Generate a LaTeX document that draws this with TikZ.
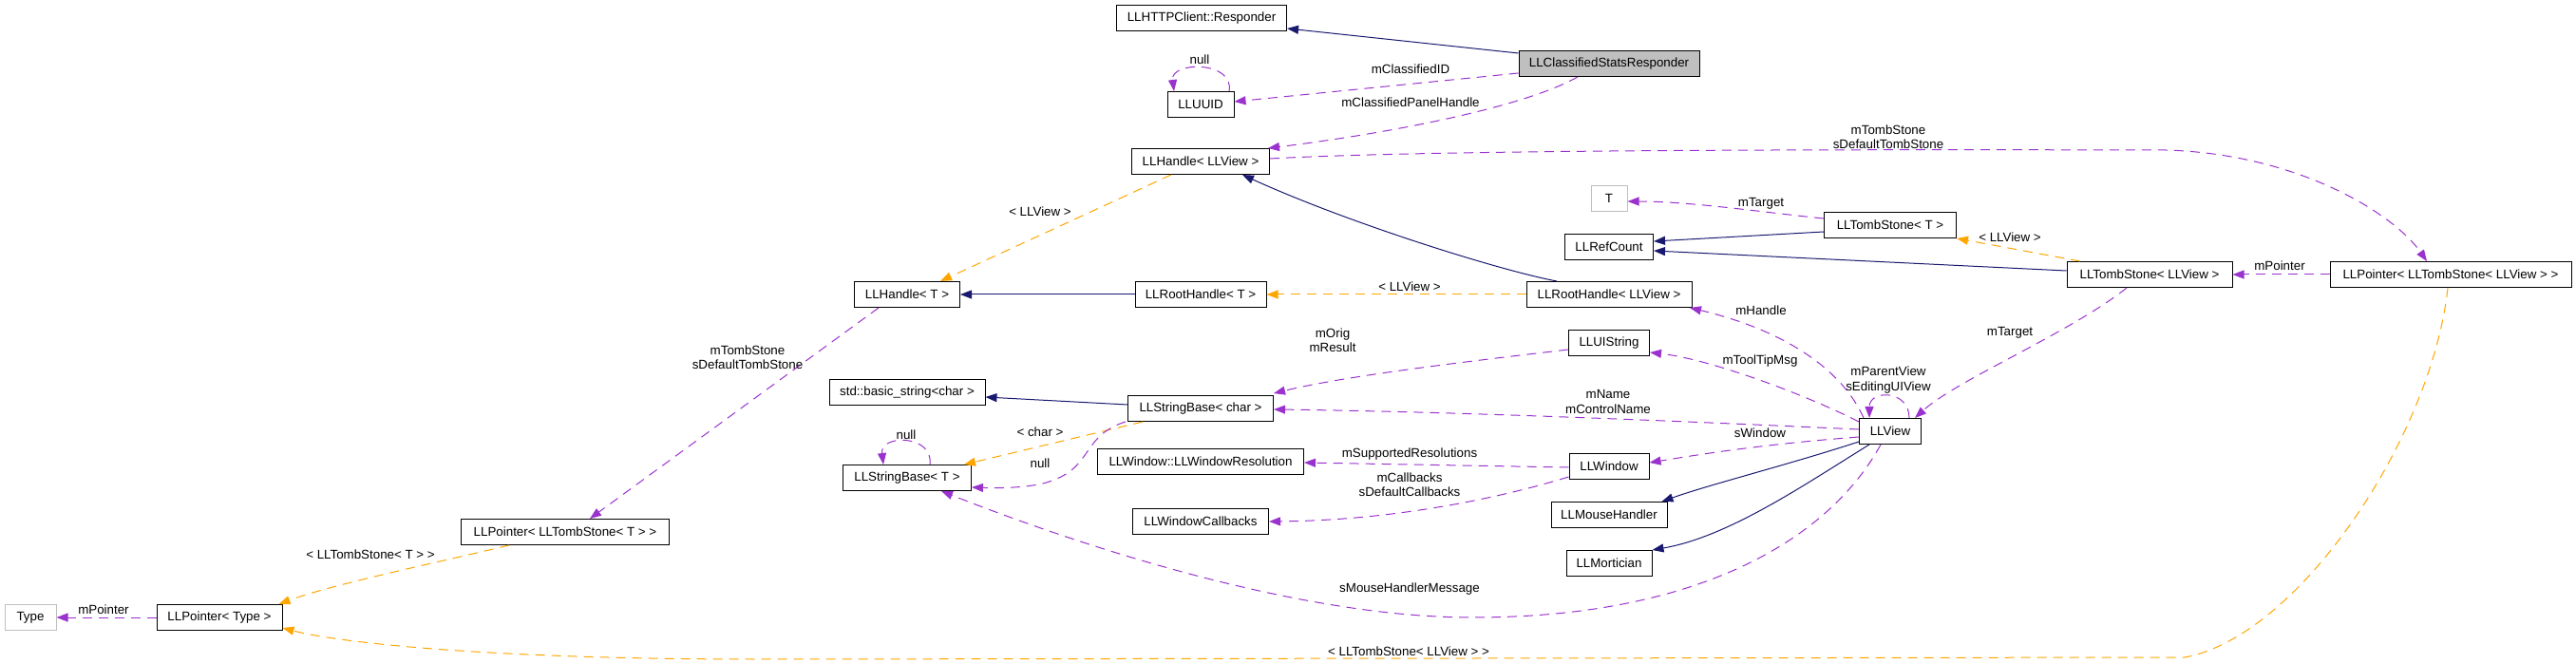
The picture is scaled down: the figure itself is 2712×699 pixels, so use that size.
\documentclass[tikz,border=0pt]{standalone}
\usepackage{fontspec}
\setmainfont{Liberation Sans}
\usetikzlibrary{arrows.meta}
\definecolor{inheritcol}{RGB}{25,25,112}
\definecolor{membercol}{RGB}{154,50,205}
\definecolor{tmplcol}{RGB}{255,165,0}
\definecolor{greybox}{RGB}{191,191,191}
\begin{document}
\begin{tikzpicture}[x=0.5pt,y=-0.5pt,
    every node/.style={font=\fontsize{6.67}{7.6}\selectfont},
    cls/.style={draw=black,line width=0.5pt,minimum height=13.5pt,inner xsep=0pt,inner ysep=0pt},
    undoc/.style={cls,draw=greybox},
    lbl/.style={inner sep=0pt,align=center},
    inherit/.style={draw=inheritcol,line width=0.5pt,-{Triangle[length=6pt,width=4.5pt]}},
    member/.style={draw=membercol,line width=0.5pt,dash pattern=on 5pt off 3.5pt,-{Triangle[length=6pt,width=4.5pt]}},
    tmpl/.style={draw=tmplcol,line width=0.5pt,dash pattern=on 5pt off 3.5pt,-{Triangle[length=6pt,width=4.5pt]}}]
    \useasboundingbox (0,0) rectangle (2712,699);
    \node[cls,minimum width=89.5pt] (resp) at (1265,19) {LLHTTPClient::Responder};
    \node[cls,fill=greybox,minimum width=95pt] (csr) at (1694,67) {LLClassifiedStatsResponder};
    \node[cls,minimum width=35pt] (uuid) at (1264,110) {LLUUID};
    \node[cls,minimum width=72.5pt] (hview) at (1264,170) {LLHandle< LLView >};
    \node[undoc,minimum width=19pt] (tT) at (1694,209) {T};
    \node[cls,minimum width=46.5pt] (refc) at (1694,260) {LLRefCount};
    \node[cls,minimum width=69pt] (rhT) at (1264,310) {LLRootHandle< T >};
    \node[cls,minimum width=87pt] (rhview) at (1694,310) {LLRootHandle< LLView >};
    \node[cls,minimum width=55.5pt] (hT) at (955,310) {LLHandle< T >};
    \node[cls,minimum width=82pt] (bstr) at (955,413) {std::basic\_string<char >};
    \node[cls,minimum width=76.5pt] (sbchar) at (1264,430) {LLStringBase< char >};
    \node[cls,minimum width=67.5pt] (sbT) at (955,503) {LLStringBase< T >};
    \node[cls,minimum width=108.5pt] (wres) at (1264,486) {LLWindow::LLWindowResolution};
    \node[cls,minimum width=71.5pt] (wcb) at (1264,549) {LLWindowCallbacks};
    \node[cls,minimum width=42.5pt] (uistr) at (1694,361) {LLUIString};
    \node[cls,minimum width=42pt] (win) at (1694,491) {LLWindow};
    \node[cls,minimum width=61pt] (mouse) at (1694,542) {LLMouseHandler};
    \node[cls,minimum width=45pt] (mort) at (1694,593) {LLMortician};
    \node[cls,minimum width=32.5pt] (view) at (1990,454) {LLView};
    \node[cls,minimum width=69.5pt] (tsT) at (1990,237) {LLTombStone< T >};
    \node[cls,minimum width=87pt] (tsview) at (2263,289) {LLTombStone< LLView >};
    \node[cls,minimum width=127pt] (ptsview) at (2580,289) {LLPointer< LLTombStone< LLView > >};
    \node[undoc,minimum width=27pt] (type) at (32,650) {Type};
    \node[cls,minimum width=66pt] (ptype) at (231,650) {LLPointer< Type >};
    \node[cls,minimum width=109.5pt] (ptsT) at (595,560) {LLPointer< LLTombStone< T > >};

    \draw[inherit] ([yshift=5.5pt]csr.west) -- ([yshift=1.5pt]resp.south east);
    \draw[member] ([yshift=-5pt]csr.west) -- ([yshift=1.5pt]uuid.east);
    \draw[member] ([xshift=15pt]uuid.north) .. controls +(6,-32) and +(-4,-32) .. ([xshift=-14pt]uuid.north);
    \draw[member] ([xshift=-16.5pt]csr.south) .. controls (1600,115) and (1450,142) .. ([xshift=35.5pt]hview.north);
    \draw[member] ([yshift=1.5pt]hview.east) .. controls (1500,158) and (1900,157) .. (2280,158)
        .. controls (2420,162) and (2520,225) .. ([xshift=-12.5pt]ptsview.north);
    \draw[inherit] ([xshift=-27.5pt]rhview.north) .. controls (1580,285) and (1420,235) .. ([xshift=22pt]hview.south);
    \draw[tmpl] ([xshift=-15.5pt]hview.south) -- ([xshift=17.5pt]hT.north);
    \draw[inherit] (rhT.west) -- (hT.east);
    \draw[tmpl] (rhview.west) -- (rhT.east);
    \draw[member] ([yshift=3.5pt]tsT.west) .. controls (1860,224) and (1780,212) .. ([yshift=-1.5pt]tT.east);
    \draw[inherit] ([yshift=-3.5pt]tsT.west) -- ([yshift=3pt]refc.east);
    \draw[inherit] ([yshift=2pt]tsview.west) -- ([yshift=-2pt]refc.east);
    \draw[tmpl] ([xshift=-36.5pt]tsview.north) -- (tsT.south east);
    \draw[member] (ptsview.west) -- (tsview.east);
    \draw[member] ([xshift=-12pt]tsview.south) .. controls (2180,350) and (2060,400) .. ([xshift=13pt]view.north);
    \draw[member] ([xshift=-14pt]view.north) .. controls (1940,390) and (1880,348) .. ([xshift=42.5pt]rhview.south);
    \draw[member] ([yshift=5pt]view.west) .. controls (1900,415) and (1800,378) .. ([yshift=-5pt]uistr.east);
    \draw[member] ([xshift=10pt]view.north) .. controls +(0,-30) and +(0,-30) .. ([xshift=-11pt]view.north);
    \draw[member] ([yshift=1pt]view.west) .. controls (1700,440) and (1500,433) .. ([yshift=-0.5pt]sbchar.east);
    \draw[member] ([yshift=-3.5pt]uistr.west) .. controls (1550,380) and (1420,395) .. ([yshift=8pt]sbchar.east);
    \draw[member] ([yshift=-3pt]view.west) .. controls (1850,468) and (1780,480) .. ([yshift=2pt]win.east);
    \draw[inherit] ([yshift=-5.5pt]view.west) .. controls (1880,490) and (1800,510) .. ([xshift=-3pt]mouse.north east);
    \draw[inherit] ([xshift=-11pt]view.south) .. controls (1900,510) and (1820,565) .. (mort.north east);
    \draw[member] ([xshift=-5pt]view.south) .. controls (1930,560) and (1800,650) .. (1550,650)
        .. controls (1350,650) and (1100,560) .. ([xshift=18pt]sbT.south);
    \draw[member] ([yshift=-0.5pt]win.west) -- ([yshift=-0.5pt]wres.east);
    \draw[member] ([yshift=-5.5pt]win.west) .. controls (1560,530) and (1450,548) .. (wcb.east);
    \draw[inherit] ([yshift=2pt]sbchar.west) -- ([yshift=-2.5pt]bstr.east);
    \draw[tmpl] ([xshift=-30.5pt]sbchar.south) -- ([xshift=-4pt]sbT.north east);
    \draw[member] ([xshift=-39.5pt]sbchar.south) .. controls (1140,458) and (1150,490) .. (1110,505)
        .. controls (1090,514) and (1050,514) .. ([yshift=-5pt]sbT.east);
    \draw[member] ([xshift=12pt]sbT.north) .. controls +(4,-32) and +(-4,-32) .. ([xshift=-12.5pt]sbT.north);
    \draw[member] ([xshift=-15pt]hT.south) -- ([xshift=13pt]ptsT.north);
    \draw[tmpl] ([xshift=-29.5pt]ptsT.south) .. controls (470,590) and (350,615) .. ([xshift=-2pt]ptype.north east);
    \draw[member] (ptype.west) -- (type.east);
    \draw[tmpl] ([xshift=-1.5pt]ptsview.south) .. controls (2560,460) and (2420,670) .. (2300,692)
        -- (800,694) .. controls (500,694) and (350,675) .. ([yshift=-5.5pt]ptype.east);

    \node[lbl] (lClassID) at (1485,73) {mClassifiedID};
    \node[lbl] (lPanel) at (1485,108) {mClassifiedPanelHandle};
    \node[lbl] (lNullUuid) at (1263,63) {null};
    \node[lbl] (lTombView) at (1988,144) {mTombStone\\sDefaultTombStone};
    \node[lbl] (lViewH) at (1095,223) {< LLView >};
    \node[lbl] (lViewRH) at (1484,302) {< LLView >};
    \node[lbl] (lTargetT) at (1854,214) {mTarget};
    \node[lbl] (lViewTS) at (2116,250) {< LLView >};
    \node[lbl] (lPtrView) at (2400,280) {mPointer};
    \node[lbl] (lHandle) at (1854,327) {mHandle};
    \node[lbl] (lTargetView) at (2116,350) {mTarget};
    \node[lbl] (lToolTip) at (1853,380) {mToolTipMsg};
    \node[lbl] (lParent) at (1988,400) {mParentView\\sEditingUIView};
    \node[lbl] (lOrig) at (1403,358) {mOrig\\mResult};
    \node[lbl] (lName) at (1693,423) {mName\\mControlName};
    \node[lbl] (lWindow) at (1853,456) {sWindow};
    \node[lbl] (lRes) at (1484,478) {mSupportedResolutions};
    \node[lbl] (lCallb) at (1484,510) {mCallbacks\\sDefaultCallbacks};
    \node[lbl] (lMouseMsg) at (1484,620) {sMouseHandlerMessage};
    \node[lbl] (lTombLLView) at (1483,686) {< LLTombStone< LLView > >};
    \node[lbl] (lChar) at (1095,455) {< char >};
    \node[lbl] (lNullSb) at (1095,488) {null};
    \node[lbl] (lNullLoop) at (954,458) {null};
    \node[lbl] (lTombT) at (787,376) {mTombStone\\sDefaultTombStone};
    \node[lbl] (lTombStoneT) at (390,584) {< LLTombStone< T > >};
    \node[lbl] (lPtrType) at (109,642) {mPointer};
\end{tikzpicture}
\end{document}
